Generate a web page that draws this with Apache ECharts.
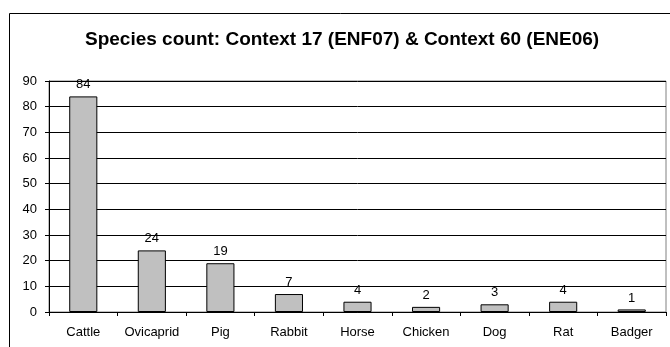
<!DOCTYPE html>
<html><head><meta charset="utf-8">
<script src="https://cdn.jsdelivr.net/npm/echarts@6/dist/echarts.min.js"></script>
<style>html,body{margin:0;padding:0;background:#fff}#c{width:670px;height:347px}</style>
</head><body><div id="c"></div>
<script>
const titleText = "Species count: Context 17 (ENF07) & Context 60 (ENE06)";
const categories = ["Cattle","Ovicaprid","Pig","Rabbit","Horse","Chicken","Dog","Rat","Badger"];
const counts = [84,24,19,7,4,2,3,4,1];
const yMin = 0, yMax = 90, yStep = 10;
const font = "Liberation Sans, Arial, sans-serif";
const chart = echarts.init(document.getElementById('c'), null, {renderer:'canvas'});
chart.setOption({
  animation:false,
  backgroundColor:'#ffffff',
  title:{text:titleText,left:80,top:25,textStyle:{fontFamily:font,fontSize:19,fontWeight:'bold',color:'#000'}},
  graphic:[{type:'rect',shape:{x:9.5,y:13.5,width:700,height:400},style:{fill:'none',stroke:'#000',lineWidth:1},silent:true}],
  grid:{left:49,top:81,right:4,bottom:35,show:true,borderColor:'#808080',borderWidth:1,backgroundColor:'transparent'},
  xAxis:{type:'category',data:categories,
    axisLine:{lineStyle:{color:'#000',width:1}},
    axisTick:{show:true,length:4,alignWithLabel:false,lineStyle:{color:'#000'}},
    axisLabel:{color:'#000',fontFamily:font,fontSize:13,margin:14,interval:0}},
  yAxis:{type:'value',min:yMin,max:yMax,interval:yStep,
    axisLine:{show:true,lineStyle:{color:'#000',width:1}},
    axisTick:{show:true,length:4,lineStyle:{color:'#000'}},
    axisLabel:{color:'#000',fontFamily:font,fontSize:13,margin:12},
    splitLine:{show:true,lineStyle:{color:'#000',width:1}}},
  series:[{type:'bar',data:counts,barWidth:'41%',
    itemStyle:{color:'#c0c0c0',borderColor:'#000',borderWidth:1},
    label:{show:true,position:'top',distance:5,color:'#000',fontFamily:font,fontSize:13}}]
});
</script></body></html>
